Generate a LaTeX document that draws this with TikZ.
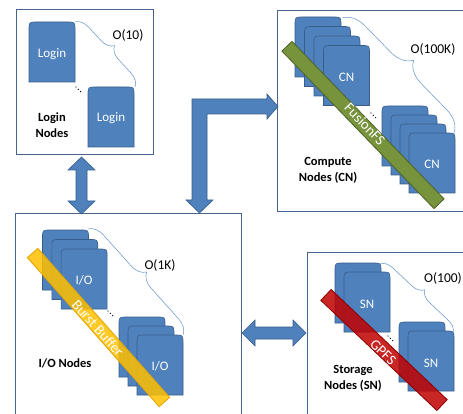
\documentclass[tikz,border=0pt]{standalone}
\usepackage{fontspec}
\setmainfont{Carlito}
\usetikzlibrary{decorations.pathreplacing}
\definecolor{cardblue}{RGB}{79,129,189}
\definecolor{cardedge}{RGB}{56,93,138}
\definecolor{boxedge}{RGB}{70,100,140}
\definecolor{bracecol}{RGB}{100,145,200}
\definecolor{fsgreen}{RGB}{119,147,60}
\definecolor{fsgreenedge}{RGB}{79,98,40}
\definecolor{bbyellow}{RGB}{255,192,0}
\definecolor{bbyellowedge}{RGB}{225,165,0}
\definecolor{gpfsred}{RGB}{192,0,0}
\definecolor{gpfsrededge}{RGB}{140,0,0}
\tikzset{
  frame/.style={draw=boxedge, line width=1pt},
  card/.style={fill=cardblue, draw=cardedge, line width=0.6pt},
  cardtext/.style={text=white, inner sep=0pt, font=\fontsize{13}{15}\selectfont},
  title/.style={inner sep=0pt, align=center, font=\bfseries\fontsize{12.5}{16}\selectfont},
  count/.style={inner sep=0pt, font=\fontsize{13.5}{16}\selectfont},
  bracestyle/.style={draw=bracecol, line width=0.5pt, decorate},
  bandshape/.style={line width=0.8pt},
  bandtext/.style={inner sep=0pt, text=white, font=\fontsize{14.5}{16}\selectfont},
  blockarrow/.style={fill=cardblue, draw=cardedge, line width=0.6pt, line join=miter}
}
\newcommand\cardat[2]{\draw[card] (#1,#2+60) -- (#1,#2+8) .. controls (#1,#2) .. (#1+8,#2) -- (#1+38,#2) .. controls (#1+46,#2) .. (#1+46,#2+8) -- (#1+46,#2+60) -- cycle;}
\newcommand\diagdots[2]{\foreach \k in {0,1,2}{\fill (#1+2.3*\k,#2+2.3*\k) circle[radius=0.7];}}
\begin{document}
\begin{tikzpicture}[x=1pt,y=-1pt]
\useasboundingbox (0,0) rectangle (463,414);
\fill[white] (0,0) rectangle (463,414);

% boxes
\draw[frame] (16,10) rectangle (153,155);
\draw[frame] (277,11) rectangle (480,212);
\draw[frame] (15,214) rectangle (241,430);
\draw[frame] (307,252) rectangle (480,430);

% block arrows
\draw[blockarrow] (81.5,157) -- (95,170) -- (87,170) -- (87,201) -- (95,201) -- (81.5,214) -- (68,201) -- (76,201) -- (76,170) -- (68,170) -- cycle;
\draw[blockarrow] (242,333) -- (255,320) -- (255,327) -- (293,327) -- (293,320) -- (306,333) -- (293,346) -- (293,339) -- (255,339) -- (255,346) -- cycle;
\draw[blockarrow] (192,200) -- (192,99) -- (267,99) -- (267,94) -- (278,106.5) -- (267,119) -- (267,114) -- (207,114) -- (207,200) -- (213,200) -- (199.5,213) -- (186,200) -- cycle;

% ---- Login nodes
\cardat{29}{22}
\node[cardtext] (login1) at (52,54) {Login};
\cardat{88}{87}
\node[cardtext] (login2) at (111,118) {Login};
\diagdots{76}{87}
\draw[bracestyle, decoration={brace, amplitude=13pt}] (75,22) -- (135,87);
\node[count] (o10) at (128,36) {O(10)};
\node[title] (logint) at (52,125) {Login\\Nodes};

% ---- Compute nodes
\foreach \i in {0,1,2,3}{\cardat{295+9.5*\i}{17+9.5*\i}}
\node[cardtext] (cn1) at (346.5,77) {CN};
\foreach \i in {0,1,2,3}{\cardat{382+9*\i}{106+9*\i}}
\node[cardtext] (cn2) at (432,164) {CN};
\diagdots{371}{113}
\draw[bracestyle, decoration={brace, amplitude=22pt}] (342,18) -- (454,133);
\node[count] (o100k) at (433,50) {O(100K)};
\node[title] (cnt) at (328,170) {Compute\\Nodes (CN)};
\begin{scope}[shift={(363,125)}, rotate=-46]
  \draw[bandshape, fill=fsgreen, draw=fsgreenedge] (-109.5,-7) rectangle (109.5,7);
\end{scope}
\node[bandtext, rotate=-46] (fusionfs) at (365,124) {FusionFS};

% ---- I/O nodes
\foreach \i in {0,1,2}{\cardat{42.5+9.3*\i}{230+9.5*\i}}
\node[cardtext] (io1) at (84,280) {I/O};
\foreach \i in {0,1,2}{\cardat{119+9*\i}{317+9*\i}}
\node[cardtext] (io2) at (160,366) {I/O};
\diagdots{108}{311}
\draw[bracestyle, decoration={brace, amplitude=15pt}] (88,229) -- (183,335);
\node[count] (o1k) at (160,265) {O(1K)};
\node[title] (iot) at (65,363) {I/O Nodes};
\begin{scope}[shift={(98.5,327.5)}, rotate=-48.5]
  \draw[bandshape, fill=bbyellow, fill opacity=0.85, draw=bbyellowedge] (-99.5,-7) rectangle (99.5,7);
\end{scope}
\node[bandtext, rotate=-48.5] (burst) at (98,328) {Burst Buffer};

% ---- Storage nodes
\cardat{335}{263}
\cardat{344}{272}
\node[cardtext] (sn1) at (367,304) {SN};
\cardat{399}{322}
\cardat{408}{331}
\node[cardtext] (sn2) at (431,363) {SN};
\diagdots{388}{336}
\draw[bracestyle, decoration={brace, amplitude=12pt}] (380,264) -- (453,333);
\node[count] (o100) at (443,278) {O(100)};
\node[title] (snt) at (353,378) {Storage\\Nodes (SN)};
\begin{scope}[shift={(384,350)}, rotate=-43.5]
  \draw[bandshape, fill=gpfsred, fill opacity=0.85, draw=gpfsrededge] (-80,-7.5) rectangle (80,7.5);
\end{scope}
\node[bandtext, rotate=-43.5] (gpfs) at (383,352) {GPFS};
\end{tikzpicture}
\end{document}
